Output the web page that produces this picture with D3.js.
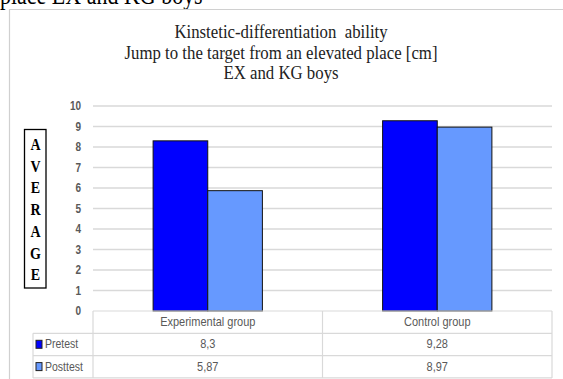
<!DOCTYPE html>
<html>
<head>
<meta charset="utf-8">
<script src="https://cdn.jsdelivr.net/npm/d3@7"></script>
<style>
  html, body { margin: 0; padding: 0; background: #fff; }
  svg { display: block; }
</style>
</head>
<body>
<svg id="chart" width="563" height="379"></svg>
<script>
// Chart data
const categories = ["Experimental group", "Control group"];
const seriesNames = ["Pretest", "Posttest"];
const pretestValues = [8.3, 9.28];
const posttestValues = [5.87, 8.97];
const valueLabels = [["8,3", "9,28"], ["5,87", "8,97"]];
const yTicks = [0, 1, 2, 3, 4, 5, 6, 7, 8, 9, 10];
const titleLines = [
  "Kinstetic-differentiation  ability",
  "Jump to the target from an elevated place [cm]",
  "EX and KG boys"
];
const axisTitleLetters = ["A", "V", "E", "R", "A", "G", "E"];
const captionText = "place EX and KG boys";

const seriesValues = [pretestValues, posttestValues];
const seriesColors = ["#0000ff", "#6699ff"];

const svg = d3.select("#chart");
const serif = "'Liberation Serif', 'Times New Roman', serif";
const sans = "'Liberation Sans', Arial, sans-serif";
const stretch = 1.2; // text is drawn slightly tall

const plot = { left: 93, right: 552, top: 106, bottom: 311 };
const rowH = 22.3;

// caption from the surrounding document
svg.append("text")
  .attr("transform", `translate(0,4) scale(1,${stretch})`)
  .attr("font-family", serif).attr("font-size", 22).attr("fill", "#000")
  .text(captionText);

// chart frame
svg.append("path")
  .attr("d", "M9.5,380 V9.5 H564")
  .attr("fill", "none").attr("stroke", "#d0d0d0").attr("stroke-width", 1.2);

// title
titleLines.forEach((t, i) => {
  svg.append("text")
    .attr("transform", `translate(281,${38 + i * 20.5}) scale(1,1.12)`)
    .attr("text-anchor", "middle")
    .attr("font-family", serif).attr("font-size", 16.8).attr("fill", "#222")
    .style("white-space", "pre")
    .text(t);
});

// scales
const y = d3.scaleLinear().domain([0, 10]).range([plot.bottom, plot.top]);
const x0 = d3.scaleBand().domain(categories).range([plot.left, plot.right]);
const x1 = d3.scaleBand().domain(seriesNames).range([0, x0.bandwidth()]).paddingOuter(1.1);

// gridlines
svg.append("g").selectAll("line").data(yTicks.filter(d => d > 0)).join("line")
  .attr("x1", plot.left).attr("x2", plot.right)
  .attr("y1", d => y(d)).attr("y2", d => y(d))
  .attr("stroke", "#d9d9d9").attr("stroke-width", 1.4);

// y tick labels
svg.append("g").selectAll("text").data(yTicks).join("text")
  .attr("transform", d => `translate(81,${y(d) + 4}) scale(1,${stretch})`)
  .attr("text-anchor", "end")
  .attr("font-family", sans).attr("font-size", 10).attr("font-weight", "bold")
  .attr("fill", "#595959")
  .text(d => d);

// bars
const groups = svg.append("g").selectAll("g").data(categories).join("g")
  .attr("transform", c => `translate(${x0(c)},0)`);
groups.selectAll("rect")
  .data((c, ci) => seriesNames.map((s, si) => ({ s, si, v: seriesValues[si][ci] })))
  .join("rect")
  .attr("x", d => x1(d.s)).attr("width", x1.bandwidth())
  .attr("y", d => y(d.v)).attr("height", d => y(0) - y(d.v))
  .attr("fill", d => seriesColors[d.si])
  .attr("stroke", "#111").attr("stroke-width", 1);

// axis title box with stacked letters
svg.append("rect")
  .attr("x", 24.5).attr("y", 129.5).attr("width", 21.5).attr("height", 158.5)
  .attr("fill", "#fff").attr("stroke", "#000").attr("stroke-width", 1.3);
svg.append("g").selectAll("text").data(axisTitleLetters).join("text")
  .attr("transform", (d, i) => `translate(35.5,${150 + i * 21.7}) scale(1,${stretch})`)
  .attr("text-anchor", "middle")
  .attr("font-family", serif).attr("font-size", 14).attr("font-weight", "bold")
  .attr("fill", "#000")
  .text(d => d);

// data table
const table = svg.append("g").attr("stroke", "#d9d9d9").attr("stroke-width", 1.2).attr("fill", "none");
const rowTops = [plot.bottom, plot.bottom + rowH, plot.bottom + 2 * rowH, plot.bottom + 3 * rowH];
const labelLeft = 33;
// horizontal rules
table.append("line").attr("x1", plot.left).attr("x2", plot.right).attr("y1", rowTops[0]).attr("y2", rowTops[0]);
[1, 2, 3].forEach(r => {
  table.append("line").attr("x1", labelLeft).attr("x2", plot.right).attr("y1", rowTops[r]).attr("y2", rowTops[r]);
});
// vertical rules
const colEdges = [plot.left, ...categories.map(c => x0(c) + x0.bandwidth())];
colEdges.forEach(xv => {
  table.append("line").attr("x1", xv).attr("x2", xv).attr("y1", rowTops[0]).attr("y2", rowTops[3]);
});
table.append("line").attr("x1", labelLeft).attr("x2", labelLeft).attr("y1", rowTops[1]).attr("y2", rowTops[3]);

// category header
svg.append("g").selectAll("text").data(categories).join("text")
  .attr("transform", c => `translate(${x0(c) + x0.bandwidth() / 2},${rowTops[0] + 15}) scale(1,${stretch})`)
  .attr("text-anchor", "middle")
  .attr("font-family", sans).attr("font-size", 11).attr("fill", "#595959")
  .text(c => c);

// series rows
seriesNames.forEach((s, si) => {
  const top = rowTops[si + 1];
  svg.append("rect")
    .attr("x", 36).attr("y", top + 7).attr("width", 6).attr("height", 8)
    .attr("fill", seriesColors[si]).attr("stroke", "#222").attr("stroke-width", 1);
  svg.append("text")
    .attr("transform", `translate(45,${top + 15}) scale(1,${stretch})`)
    .attr("font-family", sans).attr("font-size", 10.5).attr("fill", "#595959")
    .text(s);
  svg.append("g").selectAll("text").data(categories).join("text")
    .attr("transform", c => `translate(${x0(c) + x0.bandwidth() / 2},${top + 15}) scale(1,${stretch})`)
    .attr("text-anchor", "middle")
    .attr("font-family", sans).attr("font-size", 11).attr("fill", "#595959")
    .text((c, ci) => valueLabels[si][ci]);
});
</script>
</body>
</html>
